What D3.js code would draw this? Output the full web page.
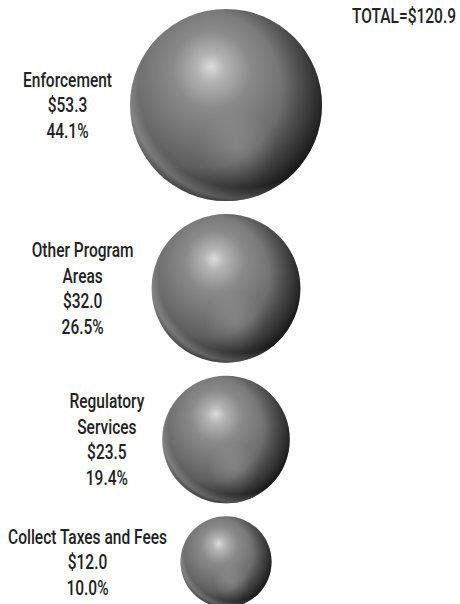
<!DOCTYPE html>
<html>
<head>
<meta charset="utf-8">
<script src="https://cdn.jsdelivr.net/npm/d3@7"></script>
<style>
  html, body { margin: 0; padding: 0; background: #fff; }
  svg { display: block; }
  text { font-family: Roboto, "Liberation Sans", "DejaVu Sans", sans-serif; font-weight: 500; fill: #222; }
</style>
</head>
<body>
<svg id="chart" width="460" height="604"></svg>
<script>
// ---- data ----
const categories = ["Enforcement", "Other Program\nAreas", "Regulatory\nServices", "Collect Taxes and Fees"];
const values = [53.3, 32.0, 23.5, 12.0];
const percents = ["44.1%", "26.5%", "19.4%", "10.0%"];
const totalLabel = "TOTAL=$120.9";

// ---- layout ----
const W = 460, H = 604;
const cx = 226, top0 = 9, gap = 13, labelGap = 18, fontSize = 20.3, lineH = 25.5;

const svg = d3.select("#chart");
const r = d3.scaleSqrt().domain([0, d3.max(values)]).range([0, 96]);

// horizontal condensation factor so the regular font looks like the condensed original
const probe = svg.append("text").style("font-size", fontSize + "px").text("Collect Taxes and Fees");
const squeeze = 159 / probe.node().getComputedTextLength();
probe.remove();

// stack spheres vertically
let yCursor = top0;
const rows = values.map((v, i) => {
  const rad = r(v);
  const cy = yCursor + rad;
  yCursor = cy + rad + gap;
  return { name: categories[i], value: v, pct: percents[i], rad, cy };
});

// ---- gradients ----
const defs = svg.append("defs");
const base = defs.append("radialGradient").attr("id", "gBase")
  .attr("cx", 0.44).attr("cy", 0.36).attr("r", 0.72).attr("fx", 0.42).attr("fy", 0.3);
[[0, "#dcdcdc"], [0.1, "#b4b4b4"], [0.28, "#8a8a8a"], [0.55, "#6e6e6e"], [0.8, "#505050"], [1, "#262626"]]
  .forEach(([o, c]) => base.append("stop").attr("offset", o).attr("stop-color", c));

const dark = defs.append("radialGradient").attr("id", "gDark")
  .attr("cx", 0.38).attr("cy", 0.42).attr("r", 0.66);
[[0, 0], [0.62, 0], [0.85, 0.35], [1, 0.65]]
  .forEach(([o, a]) => dark.append("stop").attr("offset", o).attr("stop-color", "#000").attr("stop-opacity", a));

const glow = defs.append("radialGradient").attr("id", "gGlow")
  .attr("cx", 0.56).attr("cy", 0.72).attr("r", 0.2);
[[0, 0.16], [1, 0]]
  .forEach(([o, a]) => glow.append("stop").attr("offset", o).attr("stop-color", "#fff").attr("stop-opacity", a));

const rim = defs.append("radialGradient").attr("id", "gRim")
  .attr("cx", 0.58).attr("cy", 0.4).attr("r", 0.62);
[[0, 0], [0.86, 0], [0.95, 0.22], [1, 0.1]]
  .forEach(([o, a]) => rim.append("stop").attr("offset", o).attr("stop-color", "#fff").attr("stop-opacity", a));

// ---- spheres ----
const g = svg.selectAll("g.row").data(rows).join("g").attr("class", "row");
["gBase", "gDark", "gGlow", "gRim"].forEach(id => {
  g.append("circle").attr("cx", cx).attr("cy", d => d.cy).attr("r", d => d.rad)
    .attr("fill", `url(#${id})`);
});

// ---- labels ----
g.each(function(d) {
  const lines = d.name.split("\n").concat(["$" + d.value.toFixed(1), d.pct]);
  const t = d3.select(this).append("text")
    .attr("text-anchor", "middle")
    .style("font-size", fontSize + "px");
  const n = lines.length;
  const firstBase = d.cy - (n - 1) * lineH / 2 + fontSize * 0.355;
  lines.forEach((l, i) => {
    t.append("tspan").attr("x", 0).attr("y", firstBase + i * lineH).text(l);
  });
  let maxW = 0;
  t.selectAll("tspan").each(function() { maxW = Math.max(maxW, this.getComputedTextLength()); });
  maxW *= squeeze;
  const center = Math.max(cx - d.rad - labelGap - maxW / 2, maxW / 2 + 8);
  t.attr("transform", `translate(${center},0) scale(${squeeze},1)`);
});

// ---- total ----
svg.append("text").attr("text-anchor", "end")
  .attr("transform", `translate(456,22.7) scale(${squeeze},1)`)
  .style("font-size", fontSize + "px").text(totalLabel);
</script>
</body>
</html>
